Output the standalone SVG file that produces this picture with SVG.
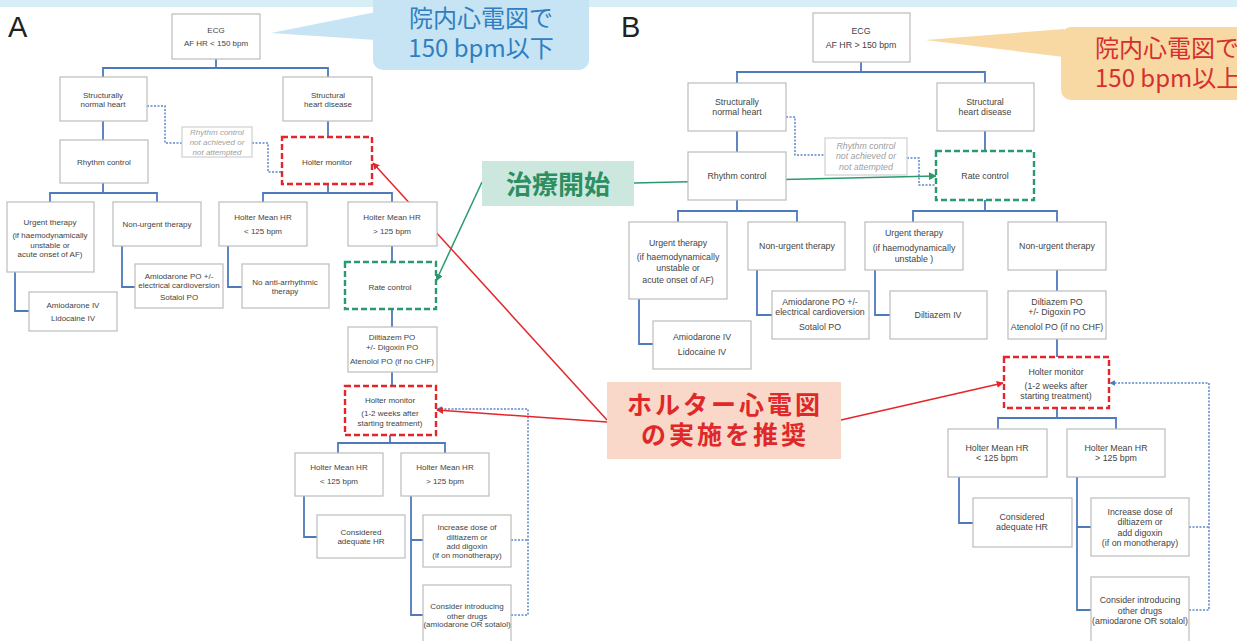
<svg xmlns="http://www.w3.org/2000/svg" width="1237" height="641" viewBox="0 0 1237 641">
<defs>
<style>
.bx{fill:#fff;stroke:#bcbcbc;stroke-width:1.2}
.gx{fill:#fff;stroke:#cfcfcf;stroke-width:1.2}
.rd{fill:#fff;stroke:#e4262b;stroke-width:2.4;stroke-dasharray:6 3}
.gd{fill:#fff;stroke:#2a9a6c;stroke-width:2.4;stroke-dasharray:6 3}
.t{font-family:"Liberation Sans",Arial,sans-serif;font-size:8px;fill:#444;text-anchor:middle}
.tb{font-family:"Liberation Sans",Arial,sans-serif;font-size:8.8px;fill:#444;text-anchor:middle}
.ti{font-family:"Liberation Sans",Arial,sans-serif;font-size:8px;fill:#a0a0a0;font-style:italic;text-anchor:middle}
.tib{font-family:"Liberation Sans",Arial,sans-serif;font-size:8.8px;fill:#a0a0a0;font-style:italic;text-anchor:middle}
.c{fill:none;stroke:#4d79bd;stroke-width:1.8}
.d{fill:none;stroke:#5a86c9;stroke-width:1.5;stroke-dasharray:2 1.5}
.lab{font-family:"Liberation Sans",Arial,sans-serif;font-size:29px;fill:#222}
.jp{font-family:"Noto Sans CJK JP",sans-serif}
</style>
<marker id="ar" viewBox="0 0 10 10" refX="9" refY="5" markerWidth="7" markerHeight="7" orient="auto" markerUnits="userSpaceOnUse"><path d="M0,0L10,5L0,10z" fill="#e4262b"/></marker>
<marker id="ag" viewBox="0 0 10 10" refX="9" refY="5" markerWidth="8" markerHeight="8" orient="auto" markerUnits="userSpaceOnUse"><path d="M0,0L10,5L0,10z" fill="#2a9a6c"/></marker>
<marker id="ab" viewBox="0 0 10 10" refX="9" refY="5" markerWidth="6" markerHeight="6" orient="auto" markerUnits="userSpaceOnUse"><path d="M0,0L10,5L0,10z" fill="#4d79bd"/></marker>
</defs>
<rect width="1237" height="641" fill="#fff"/>
<rect x="0" y="0" width="1237" height="7" fill="#d8eef7"/>
<text class="lab" x="8" y="37">A</text>
<text class="lab" x="621" y="37">B</text>

<g id="connectors">
<path class="c" d="M216,59V68M103,77V68H328V77M103,121V140M328,121V137M328,184V193M263,202V193H392V202"/>
<path class="c" d="M103,183V193M50,202V193H157V202M15,272V311H29M122,246V287H135"/>
<path class="c" d="M228,246V287H242M392,246V262M392,309V327M392,372V386M390,435V443M338,453V443H445V453"/>
<path class="c" d="M304,496V537H317M411,496V615H423M411,540H423"/>
<path class="d" d="M147,106H165V143H182M252,143H268V172H282"/>
<path class="d" d="M511,540H528M511,615H528V409H437" marker-end="url(#ab)"/>
<path class="c" d="M861,62V72M737,83V72H985V83M737,131V152M985,131V151"/>
<path class="c" d="M737,200V211M678,222V211H797V222M639,299V344H653M757,270V315H772"/>
<path class="c" d="M985,200V211M913,222V211H1057V222M875,270V315H890M1057,270V291M1057,339V357"/>
<path class="c" d="M1057,408V418M998,429V418H1116V429M959,477V523H973M1077,477V610H1091M1077,527H1091"/>
<path class="d" d="M786,117H795V155H825M907,158H919V185H936"/>
<path class="d" d="M1189,527H1209M1189,610H1209V383H1110" marker-end="url(#ab)"/>
<path d="M482,182L436,281" stroke="#2a9a6c" stroke-width="1.5" fill="none" marker-end="url(#ag)"/>
<path d="M634,183L936,176" stroke="#2a9a6c" stroke-width="1.5" fill="none" marker-end="url(#ag)"/>
<path d="M607,420L373,163" stroke="#e4262b" stroke-width="1.5" fill="none" marker-end="url(#ar)"/>
<path d="M607,422L437,410" stroke="#e4262b" stroke-width="1.5" fill="none" marker-end="url(#ar)"/>
<path d="M841,420L1003,383" stroke="#e4262b" stroke-width="1.5" fill="none" marker-end="url(#ar)"/>
</g>

<g id="a-ecg"><rect class="bx" x="172" y="14" width="88" height="45"/><text class="t" x="216" y="33">ECG</text><text class="t" x="216" y="46">AF HR &lt; 150 bpm</text></g>
<g id="a-normal"><rect class="bx" x="60" y="77" width="87" height="44"/><text class="t" x="103" y="98">Structurally</text><text class="t" x="103" y="107">normal heart</text></g>
<g id="a-disease"><rect class="bx" x="283" y="77" width="89" height="44"/><text class="t" x="328" y="98">Structural</text><text class="t" x="328" y="107">heart disease</text></g>
<g id="a-rhythm"><rect class="bx" x="60" y="140" width="88" height="43"/><text class="t" x="104" y="165">Rhythm control</text></g>
<g id="a-notachieved"><rect class="gx" x="182" y="127" width="70" height="30"/><text class="ti" x="217" y="135">Rhythm control</text><text class="ti" x="217" y="145">not achieved or</text><text class="ti" x="217" y="155">not attempted</text></g>
<g id="a-holter1"><rect class="rd" x="282" y="137" width="90" height="47"/><text class="t" x="327" y="165">Holter monitor</text></g>
<g id="a-urgent"><rect class="bx" x="7" y="202" width="87" height="70"/><text class="t" x="50" y="225">Urgent therapy</text><text class="t" x="50" y="238">(if haemodynamically</text><text class="t" x="50" y="248">unstable or</text><text class="t" x="50" y="257">acute onset of AF)</text></g>
<g id="a-nonurgent"><rect class="bx" x="113" y="202" width="88" height="44"/><text class="t" x="157" y="227">Non-urgent therapy</text></g>
<g id="a-amioiv"><rect class="bx" x="29" y="292" width="88" height="39"/><text class="t" x="73" y="308">Amiodarone IV</text><text class="t" x="73" y="321">Lidocaine IV</text></g>
<g id="a-amiopo"><rect class="bx" x="135" y="264" width="88" height="44"/><text class="t" x="179" y="279">Amiodarone PO +/-</text><text class="t" x="179" y="288">electrical cardioversion</text><text class="t" x="179" y="300">Sotalol PO</text></g>
<g id="a-hr-low"><rect class="bx" x="219" y="202" width="88" height="44"/><text class="t" x="263" y="220">Holter Mean HR</text><text class="t" x="263" y="234">&lt; 125 bpm</text></g>
<g id="a-hr-high"><rect class="bx" x="348" y="202" width="89" height="44"/><text class="t" x="392" y="220">Holter Mean HR</text><text class="t" x="392" y="234">&gt; 125 bpm</text></g>
<g id="a-noanti"><rect class="bx" x="242" y="264" width="87" height="44"/><text class="t" x="285" y="285">No anti-arrhythmic</text><text class="t" x="285" y="294">therapy</text></g>
<g id="a-rate"><rect class="gd" x="345" y="262" width="91" height="47"/><text class="t" x="390" y="290">Rate control</text></g>
<g id="a-dilt"><rect class="bx" x="348" y="327" width="89" height="45"/><text class="t" x="392" y="340">Diltiazem PO</text><text class="t" x="392" y="350">+/- Digoxin PO</text><text class="t" x="392" y="364">Atenolol PO (if no CHF)</text></g>
<g id="a-holter2"><rect class="rd" x="345" y="386" width="91" height="49"/><text class="t" x="390" y="403">Holter monitor</text><text class="t" x="390" y="416">(1-2 weeks after</text><text class="t" x="390" y="426">starting treatment)</text></g>
<g id="a-hr2-low"><rect class="bx" x="295" y="453" width="88" height="43"/><text class="t" x="339" y="470">Holter Mean HR</text><text class="t" x="339" y="484">&lt; 125 bpm</text></g>
<g id="a-hr2-high"><rect class="bx" x="401" y="453" width="88" height="43"/><text class="t" x="445" y="470">Holter Mean HR</text><text class="t" x="445" y="484">&gt; 125 bpm</text></g>
<g id="a-adequate"><rect class="bx" x="317" y="515" width="88" height="43"/><text class="t" x="361" y="535">Considered</text><text class="t" x="361" y="544">adequate HR</text></g>
<g id="a-increase"><rect class="bx" x="423" y="515" width="88" height="52"/><text class="t" x="467" y="530">Increase dose of</text><text class="t" x="467" y="540">diltiazem or</text><text class="t" x="467" y="549">add digoxin</text><text class="t" x="467" y="558">(if on monotherapy)</text></g>
<g id="a-consider"><rect class="bx" x="423" y="585" width="88" height="62"/><text class="t" x="467" y="609">Consider introducing</text><text class="t" x="467" y="619">other drugs</text><text class="t" x="467" y="627">(amiodarone OR sotalol)</text></g>

<g id="b-ecg"><rect class="bx" x="813" y="13" width="97" height="49"/><text class="tb" x="861" y="34">ECG</text><text class="tb" x="861" y="48">AF HR &gt; 150 bpm</text></g>
<g id="b-normal"><rect class="bx" x="688" y="83" width="98" height="48"/><text class="tb" x="737" y="105">Structurally</text><text class="tb" x="737" y="115">normal heart</text></g>
<g id="b-disease"><rect class="bx" x="937" y="83" width="97" height="48"/><text class="tb" x="985" y="105">Structural</text><text class="tb" x="985" y="115">heart disease</text></g>
<g id="b-rhythm"><rect class="bx" x="688" y="152" width="98" height="48"/><text class="tb" x="737" y="179">Rhythm control</text></g>
<g id="b-notachieved"><rect class="gx" x="825" y="138" width="82" height="37"/><text class="tib" x="866" y="149">Rhythm control</text><text class="tib" x="866" y="159">not achieved or</text><text class="tib" x="866" y="170">not attempted</text></g>
<g id="b-rate"><rect class="gd" x="936" y="151" width="98" height="49"/><text class="tb" x="985" y="179">Rate control</text></g>
<g id="b-urgent1"><rect class="bx" x="629" y="222" width="98" height="77"/><text class="tb" x="678" y="246">Urgent therapy</text><text class="tb" x="678" y="260">(if haemodynamically</text><text class="tb" x="678" y="271">unstable or</text><text class="tb" x="678" y="283">acute onset of AF)</text></g>
<g id="b-nonurgent1"><rect class="bx" x="748" y="222" width="97" height="48"/><text class="tb" x="797" y="249">Non-urgent therapy</text></g>
<g id="b-amioiv"><rect class="bx" x="653" y="321" width="98" height="48"/><text class="tb" x="702" y="340">Amiodarone IV</text><text class="tb" x="702" y="355">Lidocaine IV</text></g>
<g id="b-amiopo"><rect class="bx" x="772" y="291" width="97" height="48"/><text class="tb" x="820" y="305">Amiodarone PO +/-</text><text class="tb" x="820" y="315">electrical cardioversion</text><text class="tb" x="820" y="330">Sotalol PO</text></g>
<g id="b-urgent2"><rect class="bx" x="865" y="222" width="98" height="48"/><text class="tb" x="914" y="236">Urgent therapy</text><text class="tb" x="914" y="251">(if haemodynamically</text><text class="tb" x="914" y="262">unstable )</text></g>
<g id="b-nonurgent2"><rect class="bx" x="1008" y="222" width="98" height="48"/><text class="tb" x="1057" y="249">Non-urgent therapy</text></g>
<g id="b-diltiv"><rect class="bx" x="890" y="291" width="97" height="48"/><text class="tb" x="938" y="318">Diltiazem IV</text></g>
<g id="b-dilt"><rect class="bx" x="1008" y="291" width="98" height="48"/><text class="tb" x="1057" y="305">Diltiazem PO</text><text class="tb" x="1057" y="315">+/- Digoxin PO</text><text class="tb" x="1057" y="330">Atenolol PO (if no CHF)</text></g>
<g id="b-holter"><rect class="rd" x="1004" y="357" width="105" height="51"/><text class="tb" x="1056" y="375">Holter monitor</text><text class="tb" x="1056" y="389">(1-2 weeks after</text><text class="tb" x="1056" y="399">starting treatment)</text></g>
<g id="b-hr-low"><rect class="bx" x="948" y="429" width="99" height="48"/><text class="tb" x="997" y="451">Holter Mean HR</text><text class="tb" x="997" y="461">&lt; 125 bpm</text></g>
<g id="b-hr-high"><rect class="bx" x="1067" y="429" width="98" height="48"/><text class="tb" x="1116" y="451">Holter Mean HR</text><text class="tb" x="1116" y="461">&gt; 125 bpm</text></g>
<g id="b-adequate"><rect class="bx" x="973" y="498" width="99" height="49"/><text class="tb" x="1022" y="520">Considered</text><text class="tb" x="1022" y="530">adequate HR</text></g>
<g id="b-increase"><rect class="bx" x="1091" y="498" width="98" height="58"/><text class="tb" x="1140" y="515">Increase dose of</text><text class="tb" x="1140" y="525">diltiazem or</text><text class="tb" x="1140" y="536">add digoxin</text><text class="tb" x="1140" y="546">(if on monotherapy)</text></g>
<g id="b-consider"><rect class="bx" x="1091" y="577" width="98" height="70"/><text class="tb" x="1140" y="603">Consider introducing</text><text class="tb" x="1140" y="614">other drugs</text><text class="tb" x="1140" y="624">(amiodarone OR sotalol)</text></g>

<g id="callout-a">
<polygon points="271,33 376,12 376,40" fill="#c6e4f4"/>
<rect x="373" y="-10" width="216" height="80" rx="10" fill="#c6e4f4"/>
<text class="jp" font-size="24" fill="#2f7fc1" text-anchor="middle"><tspan x="481" y="27">院内心電図で</tspan><tspan x="481" y="57">150 bpm以下</tspan></text>
</g>
<g id="callout-b">
<polygon points="925,40 1064,29 1064,57" fill="#f8d9a4"/>
<rect x="1061" y="27" width="200" height="73" rx="10" fill="#f8d9a4"/>
<text class="jp" font-size="24" fill="#d5302f"><tspan x="1095" y="57">院内心電図で</tspan><tspan x="1095" y="87">150 bpm以上</tspan></text>
</g>
<g id="label-start">
<rect x="482" y="161" width="152" height="45" fill="#cce8de"/>
<text class="jp" x="558" y="194" font-size="26" font-weight="bold" fill="#2c8f62" text-anchor="middle">治療開始</text>
</g>
<g id="label-holter">
<rect x="607" y="382" width="234" height="77" fill="#f9d7c9"/>
<text class="jp" font-size="25" font-weight="bold" fill="#e02828" text-anchor="middle" letter-spacing="3"><tspan x="725" y="414">ホルター心電図</tspan><tspan x="725" y="444">の実施を推奨</tspan></text>
</g>
</svg>
